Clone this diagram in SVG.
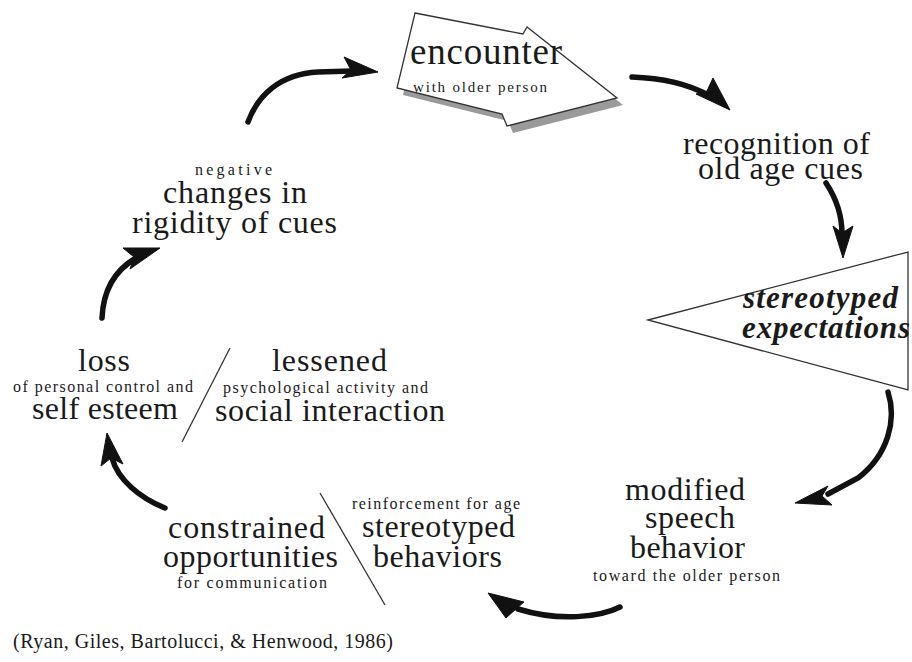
<svg xmlns="http://www.w3.org/2000/svg" width="912" height="662" viewBox="0 0 912 662">
  <style>
    .t { fill: #1a1a1a; }
    .big { font-size: 32px; }
    .small { font-size: 16px; }
    .emph { font-size: 31px; font-weight: bold; font-style: italic; }
    .shaft { fill: none; stroke: #111; stroke-width: 5.5; stroke-linecap: round; }
    .head { fill: #111; stroke: #111; stroke-width: 1; stroke-linejoin: round; }
    .divider { stroke: #333; stroke-width: 1.3; }
    .outline { fill: #fff; stroke: #333; stroke-width: 1.3; stroke-linejoin: miter; }
  </style>

  <rect width="912" height="662" fill="#fff"/>

  <!-- cycle arrows -->
  <g id="connectors">
    <!-- changes -> encounter -->
    <path class="shaft" d="M248,122 C258,95 280,74 318,72 L352,71"/>
    <polygon class="head" points="378,72 344,57 351,70 342,78"/>
    <!-- encounter -> recognition -->
    <path class="shaft" d="M632,77 C660,78 688,84 708,95"/>
    <polygon class="head" points="730,110 713,78 707,91 696,94"/>
    <!-- recognition -> stereotyped expectations -->
    <path class="shaft" d="M826,183 C836,198 842,214 842,234"/>
    <polygon class="head" points="843,258 833,226 842,233 853,226"/>
    <!-- expectations -> modified speech -->
    <path class="shaft" d="M888,392 C897,420 888,455 858,478 L828,494"/>
    <polygon class="head" points="795,503 828,486 822,496 832,505"/>
    <!-- modified speech -> reinforcement -->
    <path class="shaft" d="M620,607 C600,617 560,622 518,609"/>
    <polygon class="head" points="488,593 524,602 517,608 506,618"/>
    <!-- constrained -> loss -->
    <path class="shaft" d="M165,508 C140,498 118,480 112,458"/>
    <polygon class="head" points="107,433 101,466 111,458 123,464"/>
    <!-- loss -> changes -->
    <path class="shaft" d="M102,318 C103,295 112,272 136,258"/>
    <polygon class="head" points="160,248 123,248 134,257 130,269"/>
  </g>

  <g font-family="Liberation Serif, serif">
  <g id="encounter">
    <polygon points="415,13 523,34 527,27 617,98 507,126 502,114 397,88" transform="translate(6,7)" fill="#9a9a9a"/>
    <polygon class="outline" points="415,13 523,34 527,27 617,98 507,126 502,114 397,88"/>
    <text class="t" x="410" y="64" font-size="37" textLength="152" lengthAdjust="spacing">encounter</text>
    <text class="t" x="413" y="92" font-size="15" textLength="134" lengthAdjust="spacing">with older person</text>
  </g>

  <g id="recognition">
    <text class="t big" x="683" y="154" textLength="187" lengthAdjust="spacing">recognition of</text>
    <text class="t big" x="698" y="179" textLength="165" lengthAdjust="spacing">old age cues</text>
  </g>

  <g id="expectations">
    <polygon class="outline" points="648,320 908,252 908,390"/>
    <text class="t emph" x="743" y="308" textLength="155" lengthAdjust="spacing">stereotyped</text>
    <text class="t emph" x="742" y="338" textLength="168" lengthAdjust="spacing">expectations</text>
  </g>

  <g id="modified-speech">
    <text class="t big" x="625" y="500" textLength="120" lengthAdjust="spacing">modified</text>
    <text class="t big" x="645" y="528" textLength="90" lengthAdjust="spacing">speech</text>
    <text class="t big" x="630" y="558" textLength="115" lengthAdjust="spacing">behavior</text>
    <text class="t small" x="593" y="581" textLength="187" lengthAdjust="spacing">toward the older person</text>
  </g>

  <g id="reinforcement">
    <text class="t small" x="352" y="509" textLength="168" lengthAdjust="spacing">reinforcement for age</text>
    <text class="t big" x="362" y="537" textLength="153" lengthAdjust="spacing">stereotyped</text>
    <text class="t big" x="373" y="567" textLength="129" lengthAdjust="spacing">behaviors</text>
  </g>

  <line class="divider" x1="320" y1="493" x2="385" y2="605"/>

  <g id="constrained">
    <text class="t big" x="168" y="538" textLength="157" lengthAdjust="spacing">constrained</text>
    <text class="t big" x="163" y="567" textLength="175" lengthAdjust="spacing">opportunities</text>
    <text class="t small" x="177" y="588" textLength="150" lengthAdjust="spacing">for communication</text>
  </g>

  <g id="loss">
    <text class="t big" x="78" y="371" textLength="52" lengthAdjust="spacing">loss</text>
    <text class="t small" x="13" y="392" textLength="180" lengthAdjust="spacing">of personal control and</text>
    <text class="t big" x="32" y="419" textLength="146" lengthAdjust="spacing">self esteem</text>
  </g>

  <line class="divider" x1="230" y1="348" x2="182" y2="442"/>

  <g id="lessened">
    <text class="t big" x="272" y="371" textLength="115" lengthAdjust="spacing">lessened</text>
    <text class="t small" x="223" y="393" textLength="205" lengthAdjust="spacing">psychological activity and</text>
    <text class="t big" x="215" y="421" textLength="230" lengthAdjust="spacing">social interaction</text>
  </g>

  <g id="changes">
    <text class="t small" x="195" y="175" textLength="77" lengthAdjust="spacing">negative</text>
    <text class="t big" x="163" y="203" textLength="144" lengthAdjust="spacing">changes in</text>
    <text class="t big" x="132" y="233" textLength="205" lengthAdjust="spacing">rigidity of cues</text>
  </g>

  <g id="citation">
    <text class="t" x="13" y="648" font-size="20" textLength="380" lengthAdjust="spacing">(Ryan, Giles, Bartolucci, &amp; Henwood, 1986)</text>
  </g>
  </g>
</svg>
